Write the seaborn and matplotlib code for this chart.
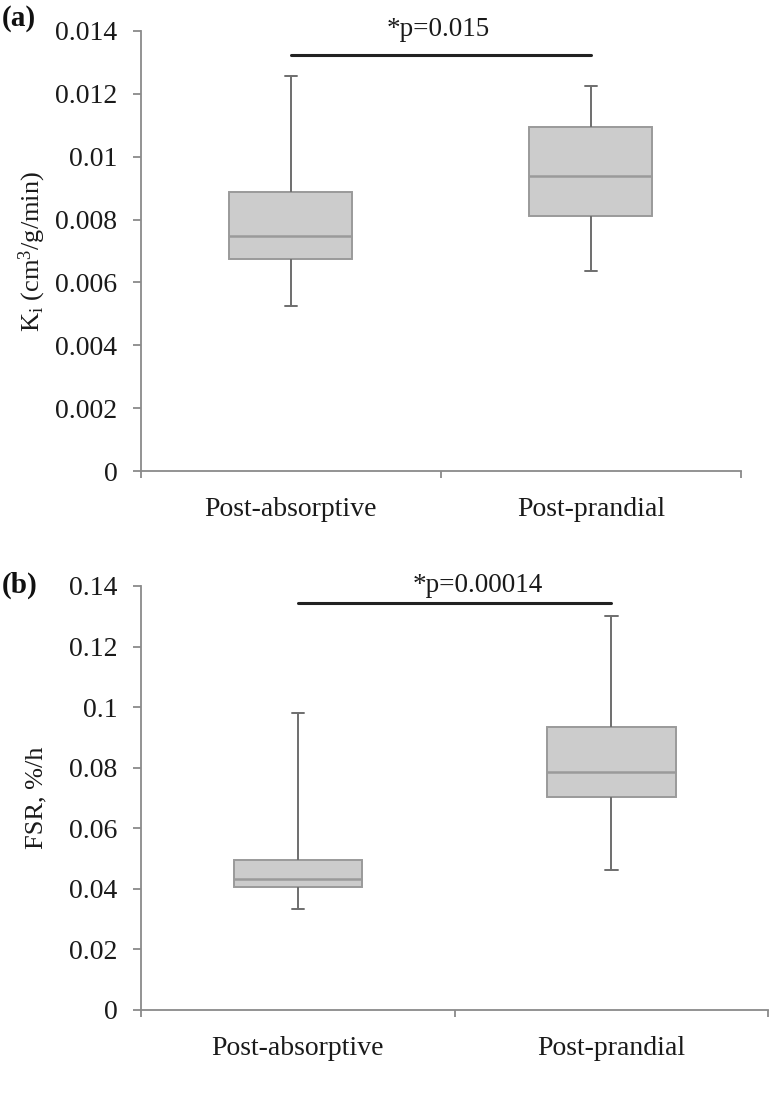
import numpy as np
import pandas as pd
import matplotlib
matplotlib.use("Agg")
import matplotlib.pyplot as plt
from matplotlib.ticker import FormatStrFormatter, FixedLocator
import seaborn as sns

# values: whisker low, Q1, median, Q3, whisker high
groups = ["Post-absorptive", "Post-prandial"]
ki_absorptive = [0.00525, 0.00674, 0.00747, 0.00887, 0.01257]
ki_prandial = [0.00637, 0.00811, 0.00940, 0.01095, 0.01226]
fsr_absorptive = [0.0332, 0.0405, 0.0434, 0.0495, 0.0980]
fsr_prandial = [0.0462, 0.0702, 0.0785, 0.0933, 0.1301]

ki_ticks = [0, 0.002, 0.004, 0.006, 0.008, 0.01, 0.012, 0.014]
fsr_ticks = [0, 0.02, 0.04, 0.06, 0.08, 0.1, 0.12, 0.14]

sns.set_style("white")
plt.rcParams["font.family"] = ["Liberation Serif", "DejaVu Serif"]
plt.rcParams["mathtext.fontset"] = "custom"
plt.rcParams["mathtext.rm"] = "Liberation Serif"
plt.rcParams["mathtext.it"] = "Liberation Serif:italic"

AXIS_GREY = "#8a8a8a"
BOX_FILL = "#cccccc"
BOX_EDGE = "#9a9a9a"
WHISK = "#6e6e6e"
TEXT = "#1a1a1a"


def draw_panel(ax, low_vals, high_vals, ticks, ylabel, label_x, ptext, bar_y, text_x, text_y):
    df = pd.DataFrame({
        "group": [groups[0]] * len(low_vals) + [groups[1]] * len(high_vals),
        "value": low_vals + high_vals,
    })
    sns.boxplot(data=df, x="group", y="value", ax=ax, whis=(0, 100), width=0.41,
                color=BOX_FILL, linecolor=BOX_EDGE, linewidth=1.4, showfliers=False,
                capwidths=0.04,
                whiskerprops={"color": WHISK, "linewidth": 1.4},
                capprops={"color": WHISK, "linewidth": 1.4},
                medianprops={"color": BOX_EDGE, "linewidth": 1.8},
                boxprops={"facecolor": BOX_FILL, "edgecolor": BOX_EDGE})

    ax.set_xlim(-0.5, 1.5)
    ax.set_ylim(0, ticks[-1])
    ax.set_yticks(ticks)
    ax.yaxis.set_major_formatter(FormatStrFormatter("%g"))
    ax.xaxis.set_minor_locator(FixedLocator([-0.5, 0.5, 1.5]))

    sns.despine(ax=ax)
    for side in ["left", "bottom"]:
        ax.spines[side].set_color(AXIS_GREY)
        ax.spines[side].set_linewidth(1.3)

    ax.tick_params(axis="y", which="major", left=True, direction="out", length=6,
                   width=1.3, color=AXIS_GREY, pad=11, labelsize=20, labelcolor=TEXT)
    ax.tick_params(axis="x", which="major", bottom=True, length=0, pad=19,
                   labelsize=20, labelcolor=TEXT)
    ax.tick_params(axis="x", which="minor", bottom=True, direction="out", length=5,
                   width=1.3, color=AXIS_GREY)

    ax.set_xlabel("")
    ax.set_ylabel(ylabel, fontsize=19, color=TEXT)
    ax.yaxis.set_label_coords(label_x, 0.5)

    # significance bar
    ax.plot([0, 1], [bar_y, bar_y], color="#222222", linewidth=2.2, clip_on=False)
    ax.text(text_x, text_y, ptext, ha="center", va="bottom", fontsize=19.5, color=TEXT)


fig = plt.figure(figsize=(7.74, 11.06), dpi=100)
ax_a = fig.add_axes([0.1822, 0.5741, 0.7748, 0.3979])
ax_b = fig.add_axes([0.1822, 0.0868, 0.8101, 0.3834])

draw_panel(ax_a, ki_absorptive, ki_prandial, ki_ticks,
           r"K$_\mathrm{i}$ (cm$^\mathrm{3}$/g/min)", -0.155,
           "*p=0.015", 0.01324, 0.493, 0.01365)
draw_panel(ax_b, fsr_absorptive, fsr_prandial, fsr_ticks,
           "FSR, %/h", -0.150,
           "*p=0.00014", 0.1343, 0.573, 0.1360)

fig.text(2 / 774, 1 - 18 / 1106, "(a)", fontsize=21, fontweight="bold",
         ha="left", va="center", color="#111111")
fig.text(2 / 774, 1 - 585 / 1106, "(b)", fontsize=21, fontweight="bold",
         ha="left", va="center", color="#111111")

fig.savefig("out.png", dpi=100)
